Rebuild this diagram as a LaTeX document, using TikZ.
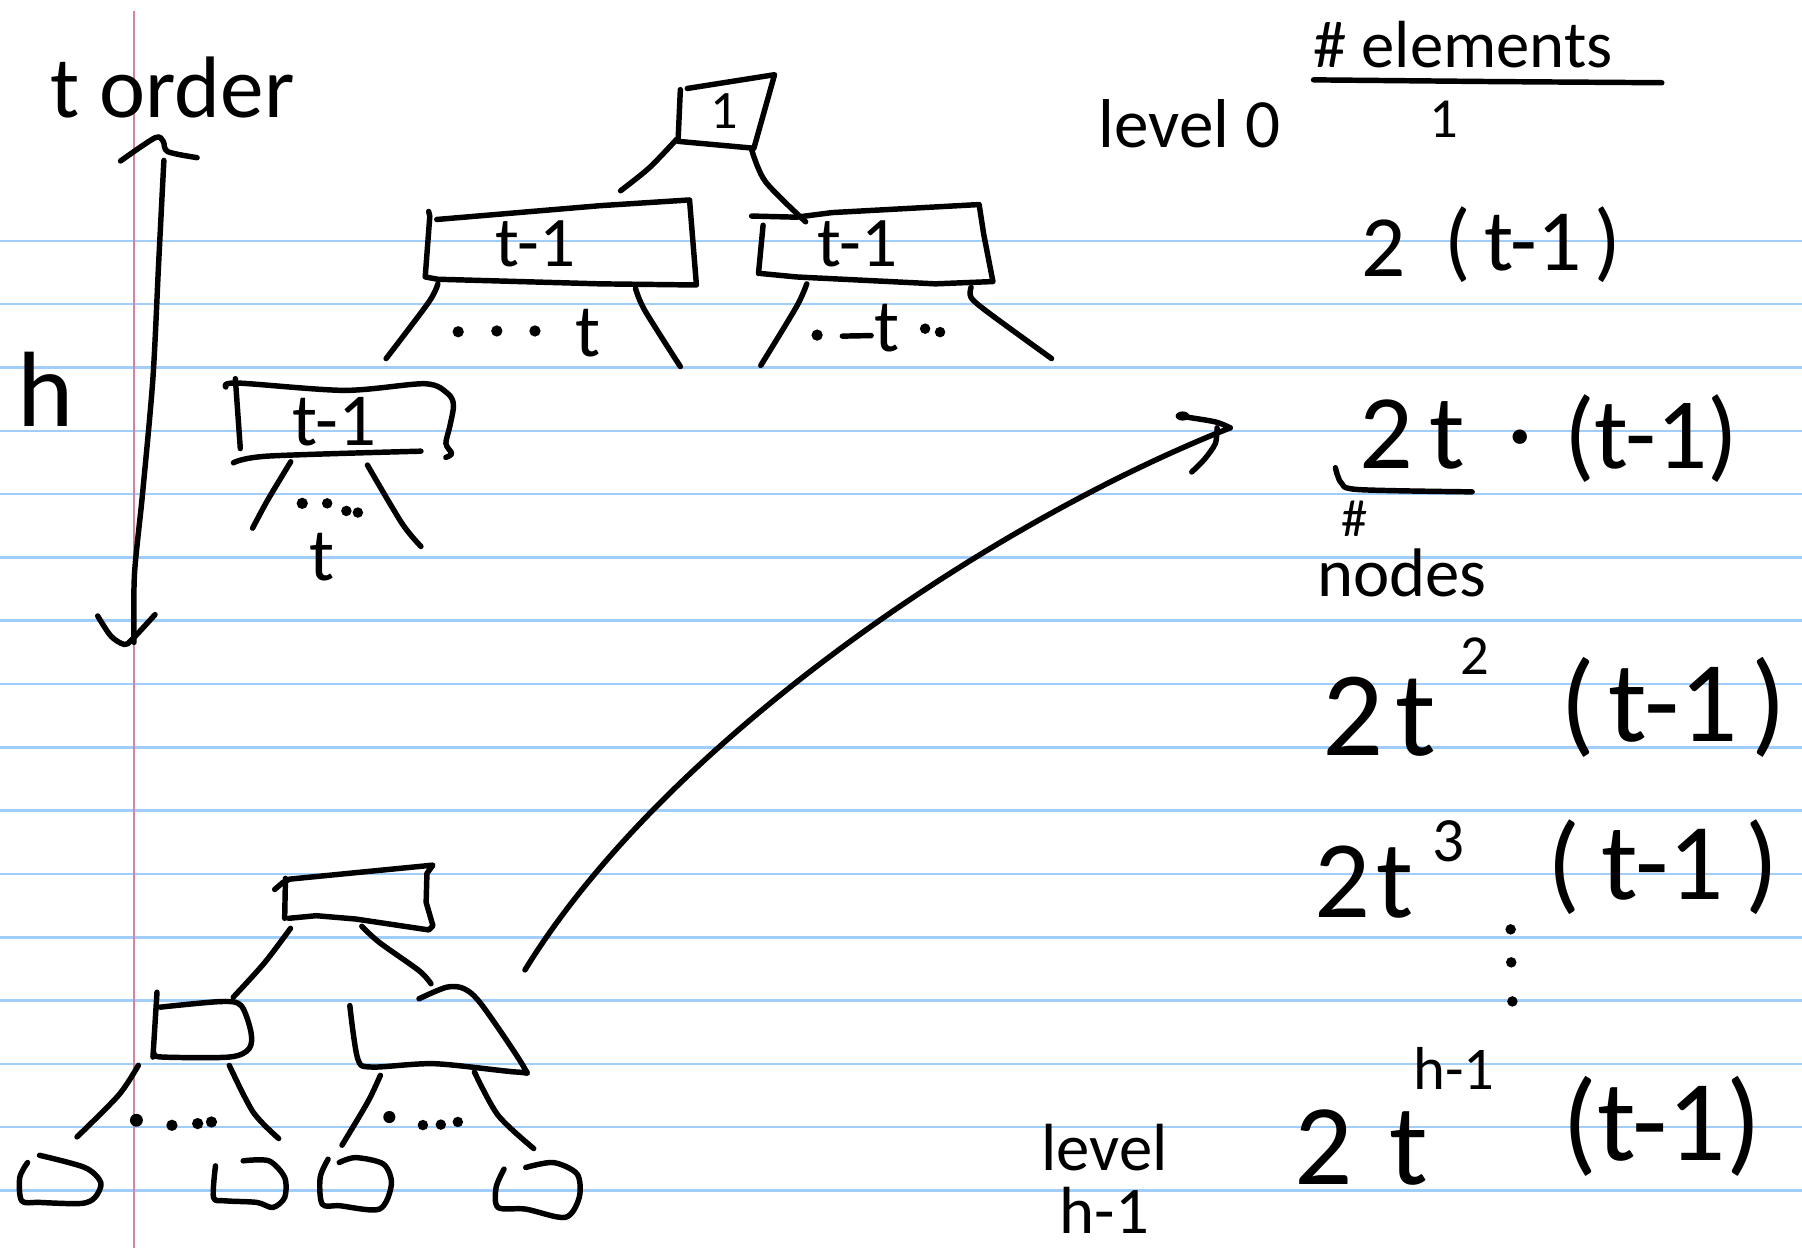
\documentclass[tikz,border=0pt]{standalone}
\usepackage{fontspec}
\setmainfont{Carlito}
\definecolor{ruleblue}{RGB}{160,205,250}
\definecolor{marginred}{RGB}{214,130,160}
\newcommand{\fsz}[1]{\fontsize{#1}{#1}\selectfont}
\tikzset{
  ruleline/.style={draw=ruleblue, line width=0.6pt},
  marginline/.style={draw=marginred, line width=0.6pt},
  ink/.style={draw=black, line width=1.35pt, line cap=round, line join=round},
  txt/.style={inner sep=0pt, outer sep=0pt, anchor=base, text=black},
  inkdot/.style={fill=black},
}
\begin{document}
\begin{tikzpicture}[x=0.01cm,y=-0.01cm]
\useasboundingbox (0,0) rectangle (1568,1086);
\fill[white] (0,0) rectangle (1568,1086);
% ruled paper
\foreach \k in {0,...,15} {\draw[ruleline] (0,{209.5+55.1*\k}) -- (1568,{209.5+55.1*\k});}
\draw[marginline] (116.6,10) -- (116.6,1086);

% ---------- height arrow ----------
\node[txt,font=\fsz{21.6pt}] (torder) at (150,102) {t order};
\node[txt,font=\fsz{26.5pt}] (hlbl) at (40,371) {h};
\coordinate (hTop) at (142.6,139.6);
\coordinate (hBot) at (116.6,559);
\draw[ink] plot[smooth] coordinates {(hTop) (138,230) (133,330) (124,430) (117,500) (hBot)};
\draw[ink] plot[smooth,tension=0.5] coordinates {(104.9,140.1) (134.9,119.9) (142,123) (146,132) (171.5,137.2)};
\draw[ink] plot[smooth,tension=0.5] coordinates {(85,536) (96.6,553.6) (108.2,560.8) (114.9,556.5) (134.9,534.8)};

% ---------- upper tree ----------
% root
\draw[ink] (598,77) -- (674,65) -- (656,129) -- (590,123) -- (592,78);
\node[txt,font=\fsz{13.4pt}] (rootlbl) at (630,112) {1};
\coordinate (rootBL) at (589,121);
\coordinate (rootBR) at (654,130);
\coordinate (rootLend) at (540,166);
\coordinate (rightTop) at (701,193);
\draw[ink] plot[smooth] coordinates {(rootBL) (565,146) (rootLend)};
\draw[ink] plot[smooth] coordinates {(rootBR) (666,158) (rightTop)};

% left level-1 box
\draw[ink] (373,184) -- (374,188) -- (370,241) -- (381,243) -- (522,247) -- (606,248) -- (600,174) -- (522,179) -- (380,191);
\node[txt,font=\fsz{17.6pt}] (l1a) at (466,232) {t-1};
\coordinate (l1aBL) at (381,247);
\coordinate (l1aBR) at (553,251);
\draw[ink] plot[smooth] coordinates {(l1aBL) (373,263) (336,312)};
\draw[ink] plot[smooth] coordinates {(l1aBR) (561,270) (592,319)};
\fill[inkdot] (398.7,288.7) circle[radius=1.4pt] (432.3,288) circle[radius=1.4pt] (465.5,288) circle[radius=1.4pt];
\node[txt,font=\fsz{18.5pt}] (l1at) at (512,310) {t};

% right level-1 box
\draw[ink] (654,188) -- (693,189) -- (724,185) -- (852,178) -- (856,204) -- (864,245) -- (814,247) -- (693,241) -- (662,238);
\draw[ink] (664,196) -- (660,238);
\node[txt,font=\fsz{17.6pt}] (l1b) at (746,232) {t-1};
\coordinate (l1bBL) at (702,247);
\coordinate (l1bBR) at (845,250);
\draw[ink] plot[smooth] coordinates {(l1bBL) (693,267) (662,318)};
\draw[ink] plot[smooth,tension=0.5] coordinates {(l1bBR) (845,259) (860,272) (915,312)};
\fill[inkdot] (711,291.6) circle[radius=1.4pt] (805,286) circle[radius=1.3pt] (818,289) circle[radius=1.3pt];
\draw[ink] (733,292.5) -- (758,292);
\node[txt,font=\fsz{18.5pt}] (l1bt) at (772,306) {t};

% level-2 box
\draw[ink] plot[smooth,tension=0.5] coordinates {(196.5,336.8) (206.5,333.3) (299.7,339.7) (369.6,333.9) (389.6,342.5) (394.6,352.7) (391.3,371.5) (388,386) (393,394.6) (388,398)};
\draw[ink] (204.8,329.5) -- (209.1,390.3);
\draw[ink] plot[smooth] coordinates {(203.1,402.7) (233,396.9) (366.3,392.6)};
\node[txt,font=\fsz{18.5pt}] (l2) at (291,388) {t-1};
\coordinate (l2BL) at (253,401.8);
\coordinate (l2BR) at (319.7,404.7);
\draw[ink] plot[smooth] coordinates {(l2BL) (233,435) (219.8,459.6)};
\draw[ink] plot[smooth] coordinates {(l2BR) (349.7,455.3) (366.3,475.5)};
\fill[inkdot] (263,438) circle[radius=1.4pt] (284.7,438) circle[radius=1.3pt] (301.4,444.6) circle[radius=1.3pt] (311.4,446) circle[radius=1.3pt];
\node[txt,font=\fsz{18.5pt}] (l2t) at (280,505) {t};

% ---------- big arrow ----------
\coordinate (arrStart) at (456.8,844);
\coordinate (arrTip) at (1070.5,372.3);
\draw[ink] (arrStart) .. controls (577,648.5) and (856,457) .. (arrTip);
\draw[ink] plot[smooth] coordinates {(1026,362) (1057,367) (arrTip)};
\draw[ink] plot[smooth] coordinates {(1059,372.3) (1057.5,386) (1048,399.7) (1037,410.7)};
\fill (1029,362) ellipse[x radius=6, y radius=4];

% ---------- lower tree ----------
\draw[ink] (239,774) -- (246,768) -- (252,765) -- (376.7,752.8) -- (371.5,760) -- (370.8,785.2) -- (376.7,805.5) -- (373.2,809.2) -- (309.6,799.7) -- (275.2,796.8) -- (251.1,799.1);
\draw[ink] (248.4,764.3) -- (247.7,799.1);
\coordinate (tbBL) at (252.8,807.8);
\coordinate (tbBR) at (314.8,806);
\coordinate (mlTop) at (203,867.7);
\coordinate (mrTop) at (375,856);
\draw[ink] plot[smooth] coordinates {(tbBL) (230,838) (mlTop)};
\draw[ink] plot[smooth] coordinates {(tbBR) (330,820) (364.6,844.6) (mrTop)};
% middle left box
\draw[ink] (136.6,863.4) -- (133.1,919.8);
\draw[ink] plot[smooth,tension=0.5] coordinates {(139.3,876.4) (192.6,871.5) (209.8,875) (218.4,898.2) (216.7,912.6) (199.5,919.8) (141,919.8) (134.2,916.9)};
% middle right box
\draw[ink] plot[smooth,tension=0.5] coordinates {(304.4,875) (311.3,921.3) (323.4,928.5) (378.4,925.6) (450.6,932.9) (455.8,928.5) (419.7,875) (404.2,860.5) (388.7,859) (364.6,869.1)};
% edges to leaves
\coordinate (mlBL) at (120.4,927);
\coordinate (mlBR) at (199.5,927);
\coordinate (mrBL) at (331,935.7);
\coordinate (mrBR) at (412.8,932.8);
\draw[ink] plot[smooth] coordinates {(mlBL) (103.2,953) (67,989.3)};
\draw[ink] plot[smooth] coordinates {(mlBR) (220.2,967.6) (242.5,990.7)};
\draw[ink] plot[smooth] coordinates {(mrBL) (320,958.9) (297.6,996.5)};
\draw[ink] plot[smooth] coordinates {(mrBR) (433.4,970.5) (464.4,999.4)};
\fill[inkdot] (118.7,974.8) circle[radius=1.6pt] (149.6,979.2) circle[radius=1.4pt] (172,977.7) circle[radius=1.4pt] (184,976.3) circle[radius=1.4pt];
\fill[inkdot] (338.8,972) circle[radius=1.5pt] (368,979) circle[radius=1.3pt] (383.6,978.6) circle[radius=1.3pt] (398.4,976.3) circle[radius=1.3pt];
% leaves
\draw[ink] plot[smooth,tension=0.5] coordinates {(24,1011.6) (17.2,1024.6) (18.9,1044.9) (34.4,1046.3) (70.5,1047.2) (82.6,1042) (87.7,1029) (74,1016) (34.4,1005.3)};
\draw[ink] plot[smooth,tension=0.5] coordinates {(187.5,1014.5) (185.8,1042) (196,1044.9) (223.6,1046.3) (237.4,1050.7) (247.7,1042) (247.7,1024.6) (234,1010.1) (211.6,1010.1)};
\draw[ink] plot[smooth,tension=0.5] coordinates {(285.5,1008.7) (278.6,1024.6) (280.4,1047.8) (295.8,1049.2) (330.2,1052.1) (340.6,1030.4) (333.7,1013) (309.6,1007.3) (295.2,1011.6)};
\draw[ink] plot[smooth,tension=0.5] coordinates {(438.6,1017.3) (431.7,1033.2) (433.4,1050.7) (457.5,1052.1) (491.9,1059.3) (504,1042) (502.2,1021.6) (481.6,1011.6) (457.5,1015.9)};

% ---------- right column ----------
\node[txt,font=\fsz{17.1pt}] (lvl0) at (1035,128) {level 0};
\node[txt,font=\fsz{16.5pt}] (hdr) at (1273,59) {\# elements};
\draw[ink] (1143,69.5) -- (1300,71) -- (1446,72);
\node[txt,font=\fsz{14pt}] (c0) at (1256,120) {1};
\node[txt,font=\fsz{21.6pt}] (c1a) at (1204,241) {2};
\node[txt,font=\fsz{21.6pt}] (c1b) at (1334,235) {(\hspace{0.15em}t-1\hspace{0.15em})};
\node[txt,font=\fsz{26.2pt}] (c2a) at (1229,408) {2\hspace{0.15em}t};
\node[txt,font=\fsz{25pt}] (c2dot) at (1323,405) {·};
\node[txt,font=\fsz{25pt}] (c2b) at (1437,408) {(t-1)};
\draw[ink] plot[smooth] coordinates {(1162,407) (1167,420) (1182,426) (1281,428)};
\node[txt,font=\fsz{13pt}] (hashn) at (1179,467) {\#};
\node[txt,font=\fsz{17pt}] (nodestxt) at (1220,519) {nodes};
\node[txt,font=\fsz{29.9pt}] (c3a) at (1200,657) {2\hspace{0.1em}t};
\node[txt,font=\fsz{14pt}] (c3s) at (1283,587) {2};
\node[txt,font=\fsz{28.5pt}] (c3b) at (1456,645) {(\hspace{0.12em}t-1\hspace{0.12em})};
\node[txt,font=\fsz{27.3pt}] (c4a) at (1187,798) {2\hspace{0.05em}t};
\node[txt,font=\fsz{15.6pt}] (c4s) at (1260,750) {3};
\node[txt,font=\fsz{27pt}] (c4b) at (1447,783) {(\hspace{0.2em}t-1\hspace{0.2em})};
\fill[inkdot] (1314.5,808.7) circle[radius=1.3pt] (1315,837.4) circle[radius=1.3pt] (1316,871.4) circle[radius=1.3pt];
\node[txt,font=\fsz{28.5pt}] (c5a) at (1184.5,1031) {2\hspace{0.32em}t};
\node[txt,font=\fsz{15pt}] (c5s) at (1265,948) {h-1};
\node[txt,font=\fsz{28.5pt}] (c5b) at (1446,1010) {(t-1)};
\node[inner sep=0pt, outer sep=0pt, anchor=north, align=center, font={\fontsize{16.5pt}{15.6pt}\selectfont}] (lvlh) at (961,978) {level\\h-1};
\end{tikzpicture}
\end{document}
